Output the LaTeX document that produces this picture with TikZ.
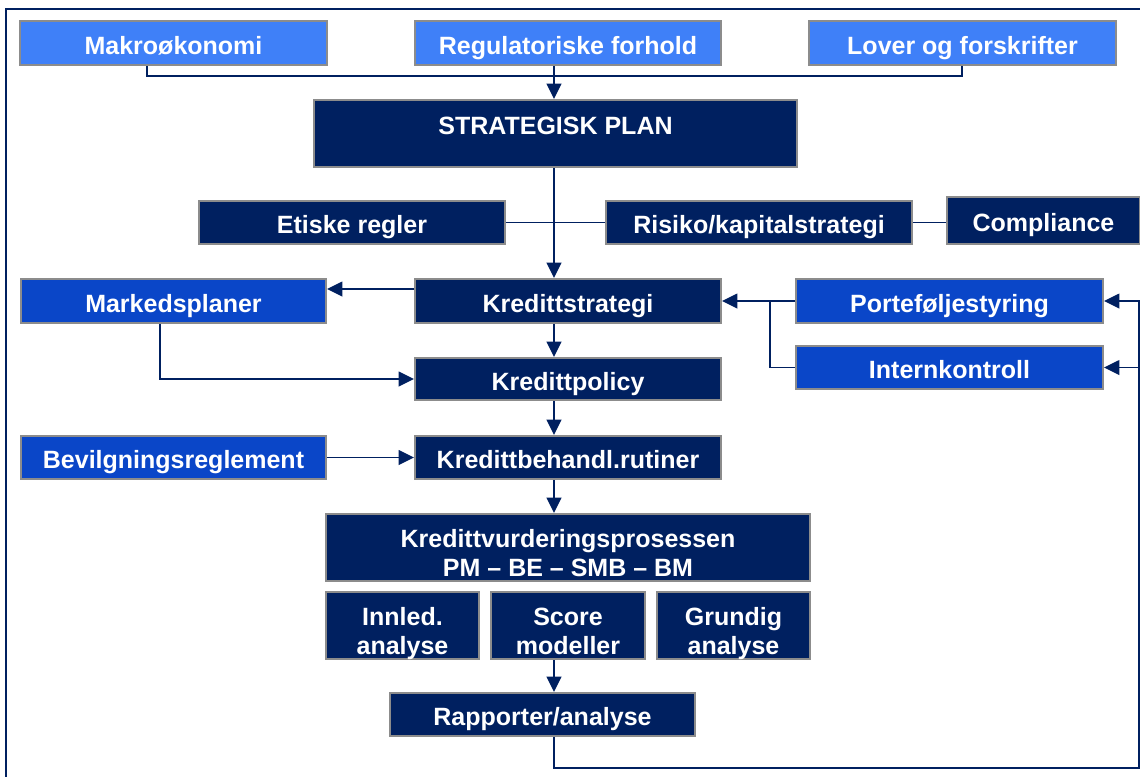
\documentclass[tikz,border=0pt]{standalone}
\usepackage{fontspec}
\setmainfont{Liberation Sans}
\usetikzlibrary{arrows.meta}
\definecolor{lightblue}{HTML}{3F80F8}
\definecolor{midblue}{HTML}{0A46C8}
\definecolor{navy}{HTML}{002060}
\definecolor{bordergray}{HTML}{8C8C8C}
\newcommand\myTop{\rule{0pt}{24.75pt}}
\newcommand\myBot{\rule[-3.75pt]{0pt}{3.75pt}}
\begin{document}
\begin{tikzpicture}[x=0.75pt,y=-0.75pt,
  nbox/.style={draw=bordergray, line width=1.5pt, text=white, inner sep=0pt,
    anchor=north west, font=\bfseries\fontsize{18.75pt}{21.75pt}\selectfont},
  one/.style={text height=17.2pt, text depth=0pt},
  two/.style={align=center},
  sz/.style 2 args={minimum width={(#1)*0.75pt}, minimum height={(#2)*0.75pt}},
  lb/.style={fill=lightblue}, mb/.style={fill=midblue}, nb/.style={fill=navy},
  conn/.style={draw=navy, line width=1.2pt},
  arr/.style={-{Triangle[length=11.5pt,width=11pt]}},
  frameline/.style={draw=navy, line width=1.6pt}]
\useasboundingbox (0,0) rectangle (1140,776);
\draw[frameline] (1145,9) -| (6,780);
% top row
\node[nbox,lb,one,sz={307}{44}] (makro) at (19,20) {Makroøkonomi};
\node[nbox,lb,one,sz={306}{44}] (reg) at (414,20) {Regulatoriske forhold};
\node[nbox,lb,one,sz={307}{44}] (lover) at (808,20) {Lover og forskrifter};
% strategic plan
\node[nbox,nb,sz={483}{10},text height=25.5pt,text depth=24.75pt,inner ysep=0pt] (sp) at (313,99) {STRATEGISK PLAN};
\node[nbox,nb,one,sz={306}{43}] (etiske) at (198,200) {Etiske regler};
\node[nbox,nb,one,sz={306}{43}] (risiko) at (605,200) {Risiko/kapitalstrategi};
\node[nbox,nb,one,sz={193}{47}] (compl) at (946,196) {Compliance};
% credit strategy row
\node[nbox,mb,one,sz={305}{44}] (markeds) at (20,278) {Markedsplaner};
\node[nbox,nb,one,sz={306}{44}] (ks) at (414,278) {Kredittstrategi};
\node[nbox,mb,one,sz={307}{44}] (porte) at (795,278) {Porteføljestyring};
\node[nbox,nb,one,sz={306}{42}] (policy) at (414,357) {Kredittpolicy};
\node[nbox,mb,one,sz={307}{43}] (intern) at (795,345) {Internkontroll};
\node[nbox,mb,one,sz={305}{43}] (bev) at (20,435) {Bevilgningsreglement};
\node[nbox,nb,one,sz={306}{43}] (kbr) at (414,435) {Kredittbehandl.rutiner};
% assessment
\node[nbox,nb,two,sz={484}{67}] (kv) at (325,513) {\myTop Kredittvurderingsprosessen\\\myBot PM – BE – SMB – BM};
\node[nbox,nb,two,sz={153}{67}] (innled) at (325,591) {\myTop Innled.\\\myBot analyse};
\node[nbox,nb,two,sz={154}{67}] (score) at (490,591) {\myTop Score\\\myBot modeller};
\node[nbox,nb,two,sz={153}{67}] (grundig) at (656,591) {\myTop Grundig\\\myBot analyse};
\node[nbox,nb,one,sz={305}{43}] (rapp) at (389,692) {Rapporter/analyse};
% helper coordinates
\coordinate (vx) at (554,0);
\coordinate (j1) at (147,76);
\coordinate (j2) at (962,76);
\coordinate (ya) at (0,289);
\coordinate (mx) at (160,0);
\coordinate (jx) at (770,0);
\coordinate (fb) at (1139,768);
% connectors
\draw[conn] (makro.south -| j1) |- (j2) -- (lover.south -| j2);
\draw[conn,arr] (reg.south -| vx) -- (sp.north -| vx);
\draw[conn,arr] (sp.south -| vx) -- (ks.north -| vx);
\draw[conn] (etiske.east) -- (risiko.west);
\draw[conn] (risiko.east) -- (risiko.east -| compl.west);
\draw[conn,arr] (ks.west |- ya) -- (markeds.east |- ya);
\draw[conn,arr] (markeds.south -| mx) |- (policy.west);
\draw[conn,arr] (ks.south -| vx) -- (policy.north -| vx);
\draw[conn,arr] (policy.south -| vx) -- (kbr.north -| vx);
\draw[conn,arr] (bev.east) -- (kbr.west);
\draw[conn,arr] (kbr.south -| vx) -- (kv.north -| vx);
\draw[conn,arr] (score.south -| vx) -- (rapp.north -| vx);
\draw[conn,arr] (porte.west) -- (ks.east);
\draw[conn] (porte.west -| jx) |- (intern.west);
\draw[conn,arr] (rapp.south -| vx) |- (fb) |- (porte.east);
\draw[conn,arr] (intern.east -| fb) -- (intern.east);
\end{tikzpicture}
\end{document}
